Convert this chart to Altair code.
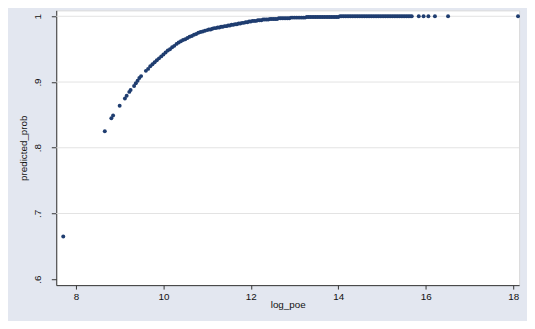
import altair as alt
import pandas as pd

# x = log_poe, y = predicted_prob
log_poe = [
    7.71, 8.66, 8.81, 8.85, 9.00, 9.12, 9.16, 9.22, 9.25,
    9.33, 9.37, 9.41, 9.45, 9.49,
    9.60, 9.65, 9.70, 9.75, 9.80, 9.85, 9.90, 9.95, 10.00, 10.05,
    10.10, 10.15, 10.20, 10.25, 10.30, 10.35, 10.40, 10.45, 10.50, 10.55,
    10.60, 10.65, 10.70, 10.75, 10.80, 10.85, 10.90, 10.95, 11.00,
    11.04, 11.08, 11.12, 11.16, 11.20, 11.24, 11.28, 11.32, 11.36, 11.40,
    11.44, 11.48, 11.52, 11.56, 11.60, 11.64, 11.68, 11.72, 11.76, 11.80,
    11.84, 11.88, 11.92, 11.96, 12.00, 12.04, 12.08, 12.12, 12.16, 12.20,
    12.24, 12.28, 12.32, 12.36, 12.40, 12.44, 12.48, 12.52, 12.56, 12.60,
    12.64, 12.68, 12.72, 12.76, 12.80, 12.84, 12.88, 12.92, 12.96, 13.00,
    13.04, 13.08, 13.12, 13.16, 13.20, 13.24, 13.28, 13.32, 13.36, 13.40,
    13.44, 13.48, 13.52, 13.56, 13.60, 13.64, 13.68, 13.72, 13.76, 13.80,
    13.84, 13.88, 13.92, 13.96, 14.00, 14.04, 14.08, 14.12, 14.16, 14.20,
    14.24, 14.28, 14.32, 14.36, 14.40, 14.44, 14.48, 14.52, 14.56, 14.60,
    14.64, 14.68, 14.72, 14.76, 14.80, 14.84, 14.88, 14.92, 14.96, 15.00,
    15.04, 15.08, 15.12, 15.16, 15.20, 15.24, 15.28, 15.32, 15.36, 15.40,
    15.44, 15.48, 15.52, 15.56, 15.60, 15.64, 15.68,
    15.84, 15.95, 16.06, 16.21, 16.51, 18.11,
]
predicted_prob = [
    0.665, 0.825, 0.845, 0.849, 0.864, 0.875, 0.879, 0.885, 0.888,
    0.894, 0.898, 0.902, 0.906, 0.909,
    0.917, 0.920, 0.924, 0.927, 0.930, 0.933, 0.936, 0.939, 0.942, 0.945,
    0.948, 0.950, 0.953, 0.955, 0.958, 0.960, 0.962, 0.964, 0.965, 0.967,
    0.969, 0.970, 0.972, 0.973, 0.975, 0.976, 0.977, 0.978, 0.979,
    0.980, 0.980, 0.981, 0.982, 0.982, 0.983, 0.983, 0.984, 0.984, 0.985,
    0.985, 0.986, 0.986, 0.987, 0.987, 0.988, 0.988, 0.989, 0.989, 0.990,
    0.990, 0.991, 0.991, 0.992, 0.992, 0.993, 0.993, 0.993, 0.994, 0.994,
    0.994, 0.995, 0.995, 0.995, 0.995, 0.996, 0.996, 0.996, 0.996, 0.996,
    0.997, 0.997, 0.997, 0.997, 0.997, 0.997, 0.997, 0.998, 0.998, 0.998,
    0.998, 0.998, 0.998, 0.998, 0.998, 0.998, 0.999, 0.999, 0.999, 0.999,
    0.999, 0.999, 0.999, 0.999, 0.999, 0.999, 0.999, 0.999, 0.999, 0.999,
    0.999, 0.999, 0.999, 0.999, 0.999, 1.000, 1.000, 1.000, 1.000, 1.000,
    1.000, 1.000, 1.000, 1.000, 1.000, 1.000, 1.000, 1.000, 1.000, 1.000,
    1.000, 1.000, 1.000, 1.000, 1.000, 1.000, 1.000, 1.000, 1.000, 1.000,
    1.000, 1.000, 1.000, 1.000, 1.000, 1.000, 1.000, 1.000, 1.000, 1.000,
    1.000, 1.000, 1.000, 1.000, 1.000, 1.000, 1.000,
    1.000, 1.000, 1.000, 1.000, 1.000, 1.000,
]

x_ticks = [8, 10, 12, 14, 16, 18]
y_ticks = [0.6, 0.7, 0.8, 0.9, 1.0]
y_grid = [0.7, 0.8, 0.9, 1.0]

df = pd.DataFrame({"log_poe": log_poe, "predicted_prob": predicted_prob})
grid_df = pd.DataFrame({"predicted_prob": y_grid})

FONT = "Liberation Sans"
x_scale = alt.Scale(domain=[7.55, 18.135], nice=False, zero=False)
y_scale = alt.Scale(domain=[0.591, 1.009], nice=False, zero=False)

x_axis = alt.Axis(
    title="log_poe",
    values=x_ticks,
    grid=False,
    tickSize=4,
    labelPadding=3,
    titlePadding=-2,
)
y_axis = alt.Axis(
    title="predicted_prob",
    values=y_ticks,
    labelExpr="datum.value == 1 ? '1' : replace(format(datum.value, '.1f'), '0.', '.')",
    grid=False,
    tickSize=5,
    labelAngle=270,
    labelAlign="center",
    labelBaseline="bottom",
    labelPadding=9,
    titlePadding=4,
)

grid = alt.Chart(grid_df).mark_rule(color="#e3e3e3", strokeWidth=1).encode(
    y=alt.Y("predicted_prob:Q", scale=y_scale, axis=y_axis)
)

points = alt.Chart(df).mark_circle(size=16, color="#1f3d70", opacity=1).encode(
    x=alt.X("log_poe:Q", scale=x_scale, axis=x_axis),
    y=alt.Y("predicted_prob:Q", scale=y_scale, axis=y_axis),
)

chart = (
    alt.layer(grid, points)
    .properties(
        width=470,
        height=279,
        autosize=alt.AutoSizeParams(type="none"),
        padding={"left": 49, "top": 0, "right": 8, "bottom": 34},
        background="#e3e7f0",
    )
    .configure_view(stroke="#d8d8d8", fill="white")
    .configure_axis(
        domainColor="#333333",
        tickColor="#333333",
        labelFont=FONT,
        titleFont=FONT,
        labelFontSize=10,
        titleFontSize=10,
        labelColor="#111111",
        titleColor="#111111",
        titleFontWeight="normal",
    )
)

chart.save("out.html", embed_options={"renderer": "svg", "actions": False})
